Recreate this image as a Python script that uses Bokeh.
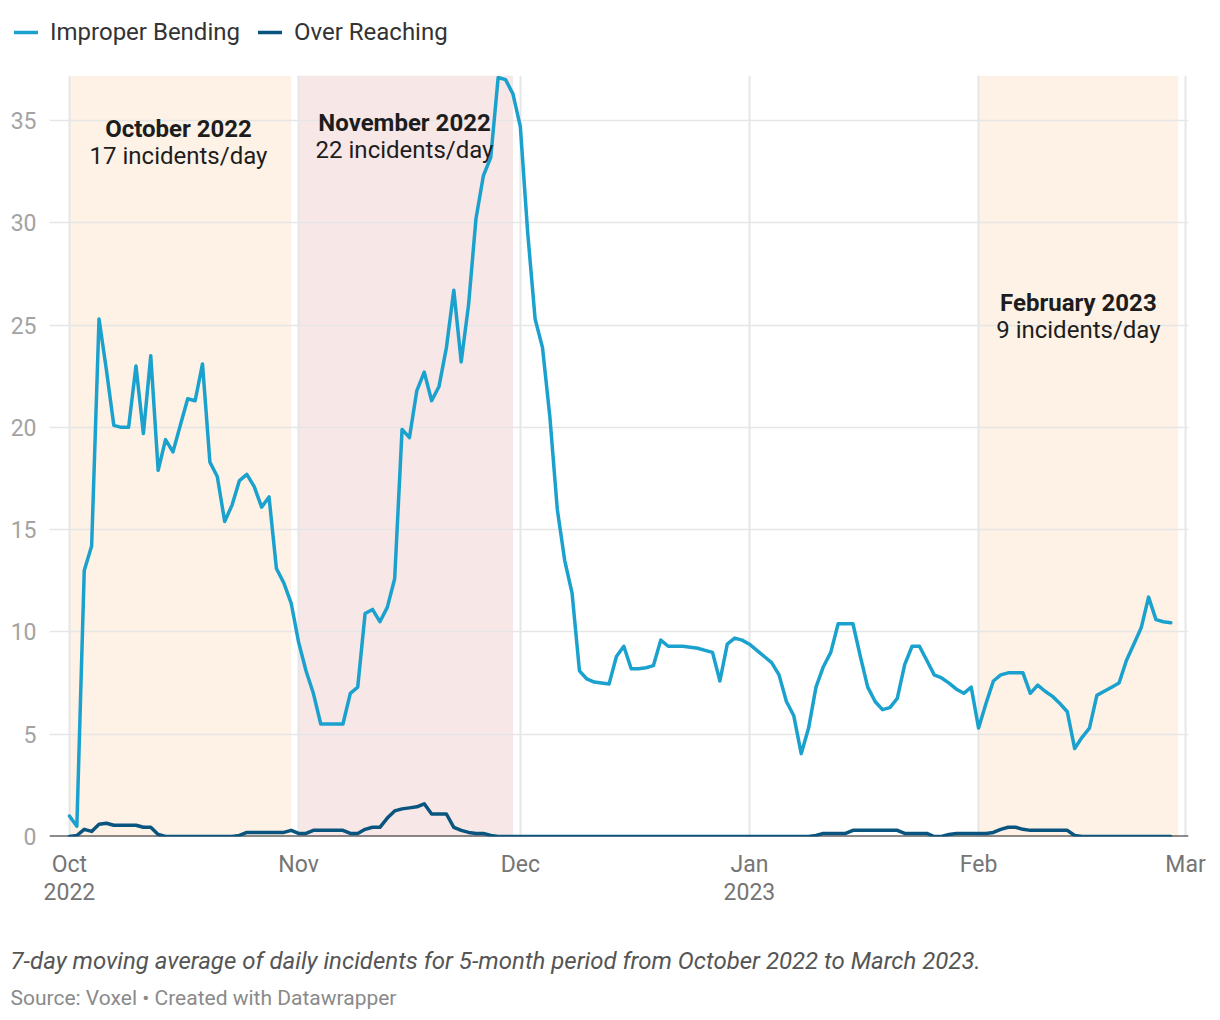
import pandas as pd
from bokeh.plotting import figure
from bokeh.models import (Range1d, FixedTicker, LinearAxis, Span, Legend, LegendItem,
                          Title, Grid, ColumnDataSource)
from bokeh.core.properties import value
from bokeh.embed import file_html
from bokeh.resources import INLINE

# ---------------- data ----------------
origin = pd.Timestamp("2022-10-01")
dates = pd.date_range("2022-10-01", "2023-02-27", freq="D")

improper_bending = [
    # Oct 2022
    1.0, 0.5, 13.0, 14.2, 25.3, 22.8, 20.1, 20.0, 20.0, 23.0, 19.7, 23.5, 17.9, 19.4, 18.8, 20.1,
    21.4, 21.3, 23.1, 18.3, 17.6, 15.4, 16.2, 17.4, 17.7, 17.1, 16.1, 16.6, 13.1, 12.4, 11.4,
    # Nov 2022
    9.5, 8.1, 7.0, 5.5, 5.5, 5.5, 5.5, 7.0, 7.3, 10.9, 11.1, 10.5, 11.2, 12.6, 19.9, 19.5,
    21.8, 22.7, 21.3, 22.0, 23.9, 26.7, 23.2, 26.0, 30.2, 32.3, 33.2, 37.1, 37.0, 36.3,
    # Dec 2022
    34.7, 29.5, 25.3, 23.9, 20.5, 16.0, 13.5, 11.9, 8.1, 7.7, 7.55, 7.5, 7.45, 8.8, 9.3, 8.2,
    8.2, 8.25, 8.35, 9.6, 9.3, 9.3, 9.3, 9.25, 9.2, 9.1, 9.0, 7.6, 9.4, 9.7, 9.6,
    # Jan 2023
    9.4, 9.1, 8.8, 8.5, 7.9, 6.6, 5.9, 4.05, 5.3, 7.3, 8.3, 9.0, 10.4, 10.4, 10.4, 8.8,
    7.3, 6.6, 6.2, 6.3, 6.75, 8.4, 9.3, 9.3, 8.6, 7.9, 7.75, 7.5, 7.2, 7.0, 7.3,
    # Feb 2023
    5.3, 6.5, 7.6, 7.9, 8.0, 8.0, 8.0, 7.0, 7.4, 7.1, 6.85, 6.5, 6.1, 4.3, 4.85, 5.3,
    6.9, 7.1, 7.3, 7.5, 8.6, 9.4, 10.2, 11.7, 10.6, 10.5, 10.45,
]

over_reaching = [
    # Oct 2022
    0, 0.05, 0.35, 0.25, 0.6, 0.65, 0.55, 0.55, 0.55, 0.55, 0.45, 0.45, 0.1, 0, 0, 0,
    0, 0, 0, 0, 0, 0, 0, 0.05, 0.2, 0.2, 0.2, 0.2, 0.2, 0.2, 0.3,
    # Nov 2022
    0.15, 0.15, 0.3, 0.3, 0.3, 0.3, 0.3, 0.15, 0.15, 0.35, 0.45, 0.45, 0.9, 1.25, 1.35, 1.4,
    1.45, 1.6, 1.1, 1.1, 1.1, 0.45, 0.3, 0.2, 0.15, 0.15, 0.05, 0, 0, 0,
    # Dec 2022
    0, 0, 0, 0, 0, 0, 0, 0, 0, 0, 0, 0, 0, 0, 0, 0,
    0, 0, 0, 0, 0, 0, 0, 0, 0, 0, 0, 0, 0, 0, 0,
    # Jan 2023
    0, 0, 0, 0, 0, 0, 0, 0, 0, 0.05, 0.15, 0.15, 0.15, 0.15, 0.3, 0.3,
    0.3, 0.3, 0.3, 0.3, 0.3, 0.15, 0.15, 0.15, 0.15, 0, 0, 0.1, 0.15, 0.15, 0.15,
    # Feb 2023
    0.15, 0.15, 0.2, 0.35, 0.45, 0.45, 0.35, 0.3, 0.3, 0.3, 0.3, 0.3, 0.3, 0.05, 0, 0,
    0, 0, 0, 0, 0, 0, 0, 0, 0, 0, 0,
]

series_names = ["Improper Bending", "Over Reaching"]
series_colors = ["#1ba1cd", "#0a5580"]

month_ticks = ["2022-10-01", "2022-11-01", "2022-12-01", "2023-01-01", "2023-02-01", "2023-03-01"]
month_labels = ["Oct", "Nov", "Dec", "Jan", "Feb", "Mar"]
year_ticks = ["2022-10-01", "2023-01-01"]
year_labels = ["2022", "2023"]
y_ticks = [0, 5, 10, 15, 20, 25, 30, 35]

band_start = ["2022-10-01", "2022-11-01", "2023-02-01"]
band_end = ["2022-10-31", "2022-11-30", "2023-02-28"]
band_colors = ["#fdf2e5", "#f7e7e7", "#fdf2e5"]
band_titles = ["October 2022", "November 2022", "February 2023"]
band_rates = ["17 incidents/day", "22 incidents/day", "9 incidents/day"]
label_pos = ["2022-10-15 18:00", "2022-11-15 08:00", "2023-02-14 12:00"]
title_y = [34.6, 34.9, 26.1]
rate_y = [33.25, 33.55, 24.75]

caption = "7-day moving average of daily incidents for 5-month period from October 2022 to March 2023."
source = "Source: Voxel \u2022 Created with Datawrapper"


def day(d):
    return (pd.Timestamp(d) - origin) / pd.Timedelta(days=1)


x_days = [day(d) for d in dates]
y_top = 37.2
FONT = "Roboto"
W = 1210
LEG_H = 60

src = ColumnDataSource(dict(x=x_days, ib=improper_bending, orr=over_reaching))

# ---------------- legend strip (its own root, above the chart) ----------------
lf = figure(width=W, height=LEG_H, output_backend="svg", toolbar_location=None,
            x_range=Range1d(-2.7, 151.4), y_range=Range1d(-20, -10),
            x_axis_type=None, y_axis_type=None, min_border=0)
lf.outline_line_color = None
lf.grid.visible = False
lr1 = lf.line("x", "ib", source=src, line_color=series_colors[0], line_width=3.5, line_cap="round")
lr2 = lf.line("x", "orr", source=src, line_color=series_colors[1], line_width=3.5, line_cap="round")
legend = Legend(items=[LegendItem(label=series_names[0], renderers=[lr1]),
                       LegendItem(label=series_names[1], renderers=[lr2])],
                orientation="horizontal", location=(14, 14),
                glyph_width=24, glyph_height=20, label_standoff=12, spacing=18,
                padding=0, margin=0, border_line_color=None, background_fill_alpha=0,
                label_text_font=FONT, label_text_font_size="24px", label_text_color="#333333")
lf.add_layout(legend)

# ---------------- main chart ----------------
p = figure(width=W, height=1020 - LEG_H, output_backend="svg", toolbar_location=None,
           x_range=Range1d(-2.7, 151.4), y_range=Range1d(0, y_top),
           x_axis_type=None, min_border_left=49, min_border_right=22,
           min_border_top=75 - LEG_H, min_border_bottom=184)
p.outline_line_color = None

# bands
bands = ColumnDataSource(dict(left=[day(d) for d in band_start], right=[day(d) for d in band_end],
                              color=band_colors, top=[y_top] * 3, bottom=[0] * 3))
p.quad(left="left", right="right", top="top", bottom="bottom", fill_color="color",
       line_color=None, source=bands, level="image")

# grids
p.ygrid.ticker = FixedTicker(ticks=y_ticks)
p.ygrid.grid_line_color = "#e6e6e6"
p.ygrid.grid_line_width = 1.5
xg = Grid(dimension=0, ticker=FixedTicker(ticks=[day(d) for d in month_ticks]),
          grid_line_color="#e6e6e6", grid_line_width=2)
p.add_layout(xg)

# baseline
p.add_layout(Span(location=0, dimension="width", line_color="#1a1a1a", line_width=2, level="underlay"))

# y axis
ya = p.yaxis[0]
ya.ticker = FixedTicker(ticks=y_ticks)
ya.axis_line_color = None
ya.major_tick_line_color = None
ya.minor_tick_line_color = None
ya.major_label_standoff = 7
ya.major_label_text_font = FONT
ya.major_label_text_font_size = "23px"
ya.major_label_text_color = "#a3a3a3"


def make_xaxis(ticks, labels, color, standoff):
    tv = [day(d) for d in ticks]
    ax = LinearAxis(ticker=FixedTicker(ticks=tv),
                    major_label_overrides={t: l for t, l in zip(tv, labels)})
    ax.axis_line_color = None
    ax.major_tick_line_color = None
    ax.minor_tick_line_color = None
    ax.major_label_standoff = standoff
    ax.major_label_text_font = FONT
    ax.major_label_text_font_size = "23px"
    ax.major_label_text_color = color
    return ax


p.add_layout(make_xaxis(month_ticks, month_labels, "#757575", 8), "below")
p.add_layout(make_xaxis(year_ticks, year_labels, "#757575", -4), "below")

# lines
p.line("x", "ib", source=src, line_color=series_colors[0], line_width=3.5,
       line_join="round", line_cap="round")
p.line("x", "orr", source=src, line_color=series_colors[1], line_width=3.5,
       line_join="round", line_cap="round")

# band labels
lab = ColumnDataSource(dict(x=[day(d) for d in label_pos], ty=title_y, ry=rate_y,
                            t=band_titles, r=band_rates))
p.text(x="x", y="ty", text="t", source=lab, text_align="center", text_baseline="middle",
       text_font=value(FONT), text_font_size="24px", text_font_style="bold", text_color="#1d1d1d")
p.text(x="x", y="ry", text="r", source=lab, text_align="center", text_baseline="middle",
       text_font=value(FONT), text_font_size="24px", text_color="#1d1d1d")

# caption & source
p.add_layout(Title(text=" ", text_font_size="2px", standoff=38), "below")
p.add_layout(Title(text=caption, align="left", offset=-39, text_font=FONT, text_font_size="24px",
                   text_font_style="italic", text_color="#555555", standoff=0), "below")
p.add_layout(Title(text=source, align="left", offset=-39, text_font=FONT, text_font_size="21px",
                   text_font_style="normal", text_color="#8a8a8a", standoff=18), "below")

open("out.html", "w").write(file_html([lf, p], INLINE))
